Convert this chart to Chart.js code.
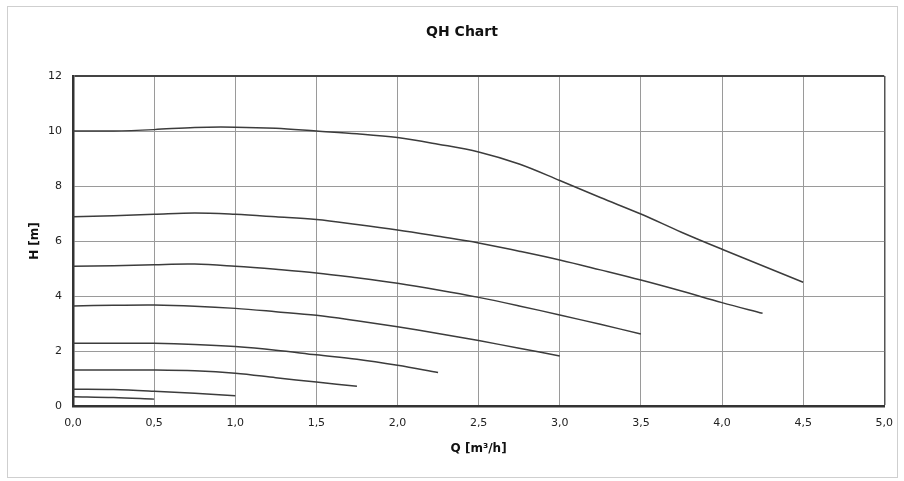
<!DOCTYPE html>
<html>
<head>
<meta charset="utf-8">
<title>QH Chart</title>
<script src="https://cdn.jsdelivr.net/npm/chart.js@4.4.1/dist/chart.umd.min.js"></script>
<style>
    html, body { margin: 0; padding: 0; background: #fff; }
    #wrap { position: relative; width: 904px; height: 481px; }
    #frame {
        position: absolute; left: 7px; top: 6px; width: 889px; height: 470px;
        border: 1px solid #cfcfcf; pointer-events: none;
    }
</style>
</head>
<body>
<div id="wrap">
    <canvas id="qh" width="904" height="481"></canvas>
    <div id="frame"></div>
</div>
<script>
// flow steps (m3/h) shared by all curves, each curve uses the first n of them
const qSteps = [0, 0.25, 0.5, 0.75, 1.0, 1.25, 1.5, 1.75, 2.0, 2.25, 2.5, 2.75, 3.0, 3.25, 3.5, 3.75, 4.0, 4.25, 4.5];

// head (m) per speed curve
const hCurve1 = [10.0, 10.0, 10.05, 10.13, 10.14, 10.1, 10.0, 9.9, 9.76, 9.52, 9.24, 8.8, 8.2, 7.58, 6.98, 6.32, 5.7, 5.1, 4.5];
const hCurve2 = [6.88, 6.92, 6.97, 7.02, 6.97, 6.88, 6.78, 6.6, 6.4, 6.17, 5.93, 5.63, 5.31, 4.95, 4.58, 4.18, 3.76, 3.37];
const hCurve3 = [5.08, 5.1, 5.14, 5.16, 5.08, 4.97, 4.84, 4.66, 4.46, 4.22, 3.95, 3.64, 3.31, 2.97, 2.62];
const hCurve4 = [3.64, 3.66, 3.67, 3.63, 3.55, 3.43, 3.3, 3.1, 2.88, 2.64, 2.38, 2.1, 1.82];
const hCurve5 = [2.28, 2.28, 2.28, 2.24, 2.16, 2.03, 1.86, 1.7, 1.48, 1.22];
const hCurve6 = [1.31, 1.31, 1.31, 1.28, 1.19, 1.03, 0.87, 0.72];
const hCurve7 = [0.61, 0.6, 0.54, 0.46, 0.37];
const hCurve8 = [0.34, 0.31, 0.25];

const xTicks = [0, 0.5, 1.0, 1.5, 2.0, 2.5, 3.0, 3.5, 4.0, 4.5, 5.0];
const yTicks = [0, 2, 4, 6, 8, 10, 12];

const FONT = "'DejaVu Sans', Arial, sans-serif";
const curves = [hCurve1, hCurve2, hCurve3, hCurve4, hCurve5, hCurve6, hCurve7, hCurve8];

const datasets = curves.map((h, i) => ({
    label: 'n' + (i + 1),
    data: h.map((v, k) => ({ x: qSteps[k], y: v })),
    borderColor: '#3c3c3c',
    borderWidth: 1.5,
    pointRadius: 0,
    tension: 0.35,
    fill: false
}));

new Chart(document.getElementById('qh'), {
    type: 'line',
    data: { datasets: datasets },
    options: {
        responsive: false,
        animation: false,
        layout: { padding: { left: 20, right: 0, top: 10, bottom: 20 } },
        plugins: {
            legend: { display: false },
            tooltip: { enabled: false },
            title: {
                display: true,
                text: 'QH Chart',
                color: '#111',
                font: { family: FONT, size: 14, weight: 'bold' },
                padding: { top: 13.6, bottom: 35.6 }
            }
        },
        scales: {
            x: {
                type: 'linear',
                min: 0,
                max: 5,
                afterBuildTicks: s => { s.ticks = xTicks.map(v => ({ value: v })); },
                afterFit: s => { s.height = 55; },
                ticks: {
                    color: '#222',
                    font: { family: FONT, size: 11 },
                    padding: 11,
                    maxRotation: 0,
                    callback: v => v.toFixed(1).replace('.', ',')
                },
                grid: {
                    drawTicks: false,
                    color: c => c.tick && c.tick.value === 5 ? '#555' : '#9a9a9a',
                    lineWidth: c => c.tick && c.tick.value === 5 ? 1.5 : 1
                },
                border: { display: true, color: '#333', width: 2.5 },
                title: {
                    display: true,
                    text: 'Q [m³/h]',
                    color: '#111',
                    font: { family: FONT, size: 12, weight: 'bold' },
                    padding: { top: 0, bottom: 4.8 }
                }
            },
            y: {
                type: 'linear',
                min: 0,
                max: 12,
                afterBuildTicks: s => { s.ticks = yTicks.map(v => ({ value: v })); },
                afterFit: s => { s.width = 53; },
                ticks: {
                    color: '#222',
                    font: { family: FONT, size: 11 },
                    padding: 11
                },
                grid: {
                    drawTicks: false,
                    color: c => c.tick && c.tick.value === 12 ? '#444' : '#9a9a9a',
                    lineWidth: c => c.tick && c.tick.value === 12 ? 2 : 1
                },
                border: { display: true, color: '#333', width: 2.5 },
                title: {
                    display: true,
                    text: 'H [m]',
                    color: '#111',
                    font: { family: FONT, size: 12, weight: 'bold' },
                    padding: { top: 7.8, bottom: 0 }
                }
            },
            // empty right-hand axis, only keeps the plot's right edge in place
            y2: {
                type: 'linear',
                position: 'right',
                min: 0,
                max: 12,
                afterFit: s => { s.width = 17; },
                ticks: { display: false },
                grid: { display: false, drawOnChartArea: false },
                border: { display: false }
            }
        }
    }
});
</script>
</body>
</html>
